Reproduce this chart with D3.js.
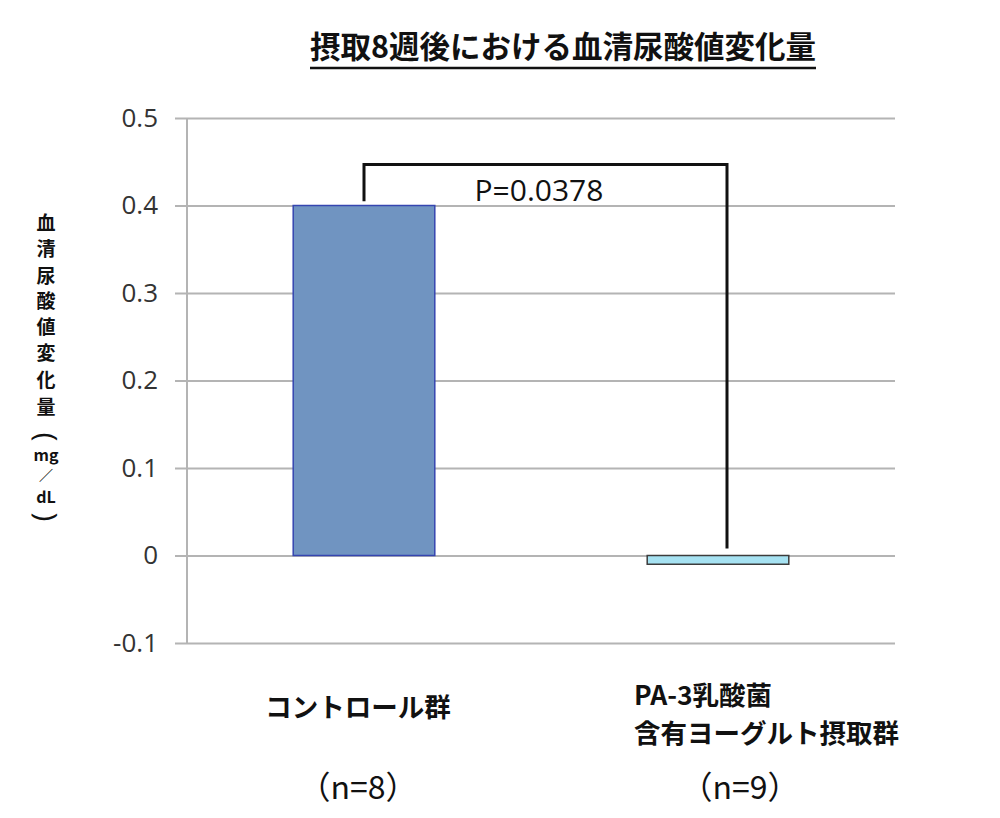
<!DOCTYPE html>
<html>
<head>
<meta charset="utf-8">
<script src="https://cdn.jsdelivr.net/npm/d3@7"></script>
<style>
  body { margin: 0; background: #fff; }
  svg { display: block; }
</style>
</head>
<body>
<svg id="chart" width="1000" height="818"></svg>
<script>
// DATA
var groups = ["control", "pa3"];
var values = [0.4, -0.01];
var groupLabels = [["コントロール群"], ["PA-3乳酸菌", "含有ヨーグルト摂取群"]];
var nLabels = ["（n=8）", "（n=9）"];
var yTicks = [-0.1, 0, 0.1, 0.2, 0.3, 0.4, 0.5];
var yTickLabels = ["-0.1", "0", "0.1", "0.2", "0.3", "0.4", "0.5"];
var yLabelChars = ["血", "清", "尿", "酸", "値", "変", "化", "量", "(", "mg", "／", "dL", ")"];
var pLabel = "P=0.0378";
// bracket: top level, left foot, right foot (in data units)
var bracketTop = 0.447;
var bracketFeet = [0.405, 0.008];
var titleText = "摂取8週後における血清尿酸値変化量";

var JP = "'Noto Sans CJK JP', 'Noto Sans', sans-serif";
var LATIN = "'Open Sans', 'Noto Sans', sans-serif";

var svg = d3.select("#chart");

var PLOT_LEFT = 187, PLOT_RIGHT = 895, PLOT_TOP = 118, PLOT_BOTTOM = 643;

var x = d3.scaleBand()
    .domain(groups)
    .range([PLOT_LEFT, PLOT_RIGHT])
    .padding(0);
var BAR_W = x.bandwidth() * 0.40;

var y = d3.scaleLinear()
    .domain([-0.1, 0.5])
    .range([PLOT_BOTTOM, PLOT_TOP]);

// title
var title = svg.append("text")
    .attr("x", 563)
    .attr("y", 58)
    .attr("text-anchor", "middle")
    .style("font-family", JP)
    .style("font-weight", "bold")
    .style("font-size", "30.5px")
    .style("fill", "#111")
    .text(titleText);
var tb = title.node().getBBox();
svg.append("line")
    .attr("x1", tb.x).attr("x2", tb.x + tb.width)
    .attr("y1", 68).attr("y2", 68)
    .style("stroke", "#111")
    .style("stroke-width", 2.5);

// gridlines + ticks
var yAxis = d3.axisLeft(y)
    .tickValues(yTicks)
    .tickSize(-(PLOT_RIGHT - PLOT_LEFT))
    .tickFormat(function(d, i){ return yTickLabels[i]; });

var gAxis = svg.append("g")
    .attr("transform", "translate(" + PLOT_LEFT + ",0)")
    .call(yAxis);
gAxis.select(".domain").remove();
gAxis.selectAll(".tick line")
    .attr("x1", -12)
    .style("stroke", "#b4b4b4")
    .style("stroke-width", 2);
gAxis.selectAll(".tick text")
    .attr("x", -29)
    .style("font-family", LATIN)
    .style("font-size", "26px")
    .style("fill", "#333");

// vertical axis line
svg.append("line")
    .attr("x1", PLOT_LEFT).attr("x2", PLOT_LEFT)
    .attr("y1", y(0.5)).attr("y2", y(-0.1))
    .style("stroke", "#b4b4b4")
    .style("stroke-width", 2);

// bars
var fills = ["#7094c1", "#a6e2f2"];
var strokes = ["#3545b0", "#3c3c3c"];
svg.selectAll(".bar")
    .data(values)
    .enter()
    .append("rect")
    .attr("class", "bar")
    .attr("x", function(d, i){ return x(groups[i]) + (x.bandwidth() - BAR_W) / 2; })
    .attr("y", function(d){ return y(Math.max(0, d)); })
    .attr("width", BAR_W)
    .attr("height", function(d){ return Math.abs(y(d) - y(0)); })
    .style("fill", function(d, i){ return fills[i]; })
    .style("stroke", function(d, i){ return strokes[i]; })
    .style("stroke-width", 1.5);

// significance bracket
var bx1 = x(groups[0]) + x.bandwidth() / 2;
var bx2 = x(groups[1]) + x.bandwidth() / 2 + 9;
svg.append("path")
    .attr("d", "M" + bx1 + "," + y(bracketFeet[0]) +
               "V" + y(bracketTop) +
               "H" + bx2 +
               "V" + y(bracketFeet[1]))
    .style("fill", "none")
    .style("stroke", "#111")
    .style("stroke-width", 3);

svg.append("text")
    .attr("x", 539)
    .attr("y", 201)
    .attr("text-anchor", "middle")
    .style("font-family", LATIN)
    .style("font-size", "30px")
    .style("fill", "#111")
    .text(pLabel);

// y axis label, stacked vertically
var yLabY = [223, 249, 276, 301, 327, 353, 380, 407, 437, 455, 475, 497, 517];
var isParen = function(d){ return d === "(" || d === ")"; };

svg.selectAll(".ylab")
    .data(yLabelChars.filter(function(d){ return !isParen(d); }))
    .enter()
    .append("text")
    .attr("class", "ylab")
    .attr("x", 46)
    .attr("y", function(d){ return yLabY[yLabelChars.indexOf(d)]; })
    .attr("dy", "0.35em")
    .attr("text-anchor", "middle")
    .style("font-family", JP)
    .style("font-weight", "bold")
    .style("font-size", function(d){
        if (d.length > 1) return "16px";
        if (d === "／") return "14px";
        return "19px";
    })
    .style("fill", "#111")
    .text(function(d){ return d; });

// parentheses turned 90deg so they read as the vertical forms
svg.selectAll(".yparen")
    .data(yLabelChars.filter(isParen))
    .enter()
    .append("text")
    .attr("class", "yparen")
    .attr("text-anchor", "middle")
    .style("font-family", LATIN)
    .style("font-size", "30px")
    .style("fill", "#111")
    .text(function(d){ return d; })
    .each(function(d){
        var b = this.getBBox();
        var cx = b.x + b.width / 2, cy = b.y + b.height / 2 + 1;
        d3.select(this).attr("transform",
            "translate(46," + yLabY[yLabelChars.indexOf(d)] + ") rotate(90) translate(" + (-cx) + "," + (-cy) + ")");
    });

// category labels
svg.append("text")
    .attr("x", x(groups[0]) + x.bandwidth() / 2 - 6)
    .attr("y", 708)
    .attr("dy", "0.35em")
    .attr("text-anchor", "middle")
    .style("font-family", JP)
    .style("font-weight", "bold")
    .style("font-size", "26.5px")
    .style("fill", "#111")
    .text(groupLabels[0][0]);

svg.selectAll(".lab2")
    .data(groupLabels[1])
    .enter()
    .append("text")
    .attr("class", "lab2")
    .attr("x", 634)
    .attr("y", function(d, i){ return 696 + i * 38; })
    .attr("dy", "0.35em")
    .style("font-family", JP)
    .style("font-weight", "bold")
    .style("font-size", "26.5px")
    .style("fill", "#111")
    .text(function(d){ return d; });

svg.selectAll(".nlab")
    .data(nLabels)
    .enter()
    .append("text")
    .attr("class", "nlab")
    .attr("x", function(d, i){ return x(groups[i]) + x.bandwidth() / 2 + (i === 0 ? -6 : 22); })
    .attr("y", 788)
    .attr("dy", "0.35em")
    .attr("text-anchor", "middle")
    .style("font-family", JP)
    .style("font-size", "32px")
    .style("fill", "#111")
    .text(function(d){ return d; });
</script>
</body>
</html>
